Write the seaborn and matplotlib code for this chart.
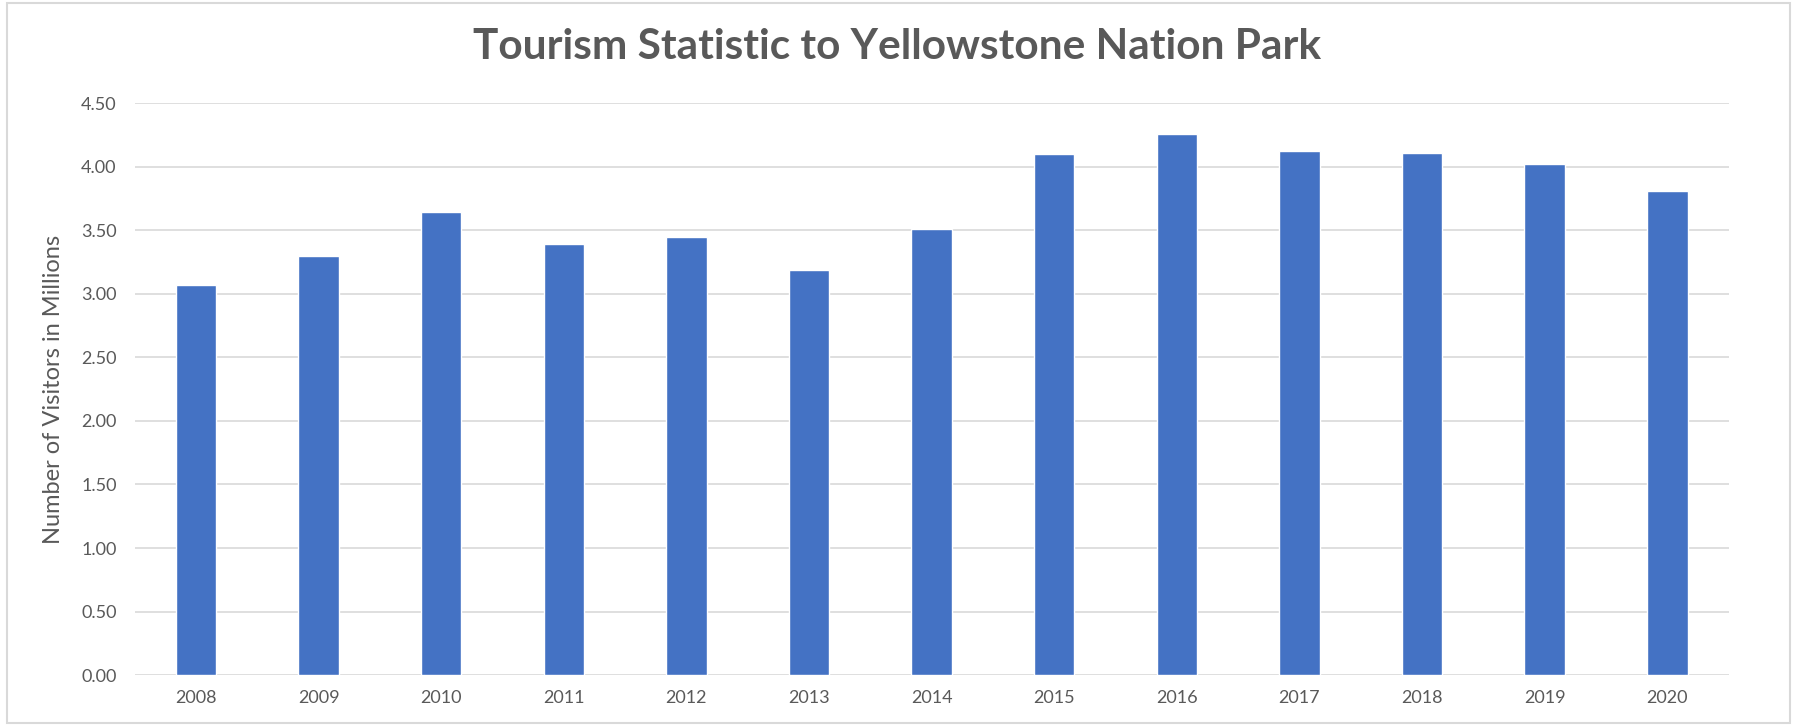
import matplotlib
matplotlib.use("Agg")
import matplotlib.pyplot as plt
import seaborn as sns
import pandas as pd
from matplotlib.patches import Rectangle

years = ["2008", "2009", "2010", "2011", "2012", "2013", "2014",
         "2015", "2016", "2017", "2018", "2019", "2020"]
visitors = [3.07, 3.30, 3.64, 3.39, 3.45, 3.19, 3.51,
            4.10, 4.26, 4.12, 4.11, 4.02, 3.81]
y_ticks = [0.0, 0.5, 1.0, 1.5, 2.0, 2.5, 3.0, 3.5, 4.0, 4.5]

df = pd.DataFrame({"Year": years, "Visitors": visitors})

sns.set_theme(style="white")
plt.rcParams['font.family'] = ['Lato', 'DejaVu Sans']

fig = plt.figure(figsize=(17.95, 7.26), dpi=100)
ax = fig.add_axes([0.075, 0.070, 0.888, 0.788])

sns.barplot(data=df, x="Year", y="Visitors", color="#4472C4",
            saturation=1, width=0.33, ax=ax, zorder=3)

ax.set_ylim(0, 4.5)
ax.set_xlim(-0.5, len(years) - 0.5)
ax.set_yticks(y_ticks)
ax.set_yticklabels([f"{v:.2f}" for v in y_ticks])
ax.yaxis.grid(True, color="#D9D9D9", linewidth=1.2, zorder=0)
ax.set_axisbelow(True)
for s in ax.spines.values():
    s.set_visible(False)
ax.tick_params(axis="both", length=0, colors="#595959", labelsize=13)
ax.tick_params(axis="y", pad=13)
ax.tick_params(axis="x", pad=11)
ax.set_xlabel("")
ax.set_ylabel("Number of Visitors in Millions", fontsize=17, color="#595959", labelpad=12)

fig.text(0.5, 0.935, "Tourism Statistic to Yellowstone Nation Park",
         ha="center", va="center", fontsize=30.5, fontweight="bold", color="#595959")

fig.patches.append(Rectangle((0.004, 0.004), 0.993, 0.992, transform=fig.transFigure,
                             fill=False, edgecolor="#D9D9D9", linewidth=1.5))

fig.savefig("out.png", dpi=100, facecolor="white")
